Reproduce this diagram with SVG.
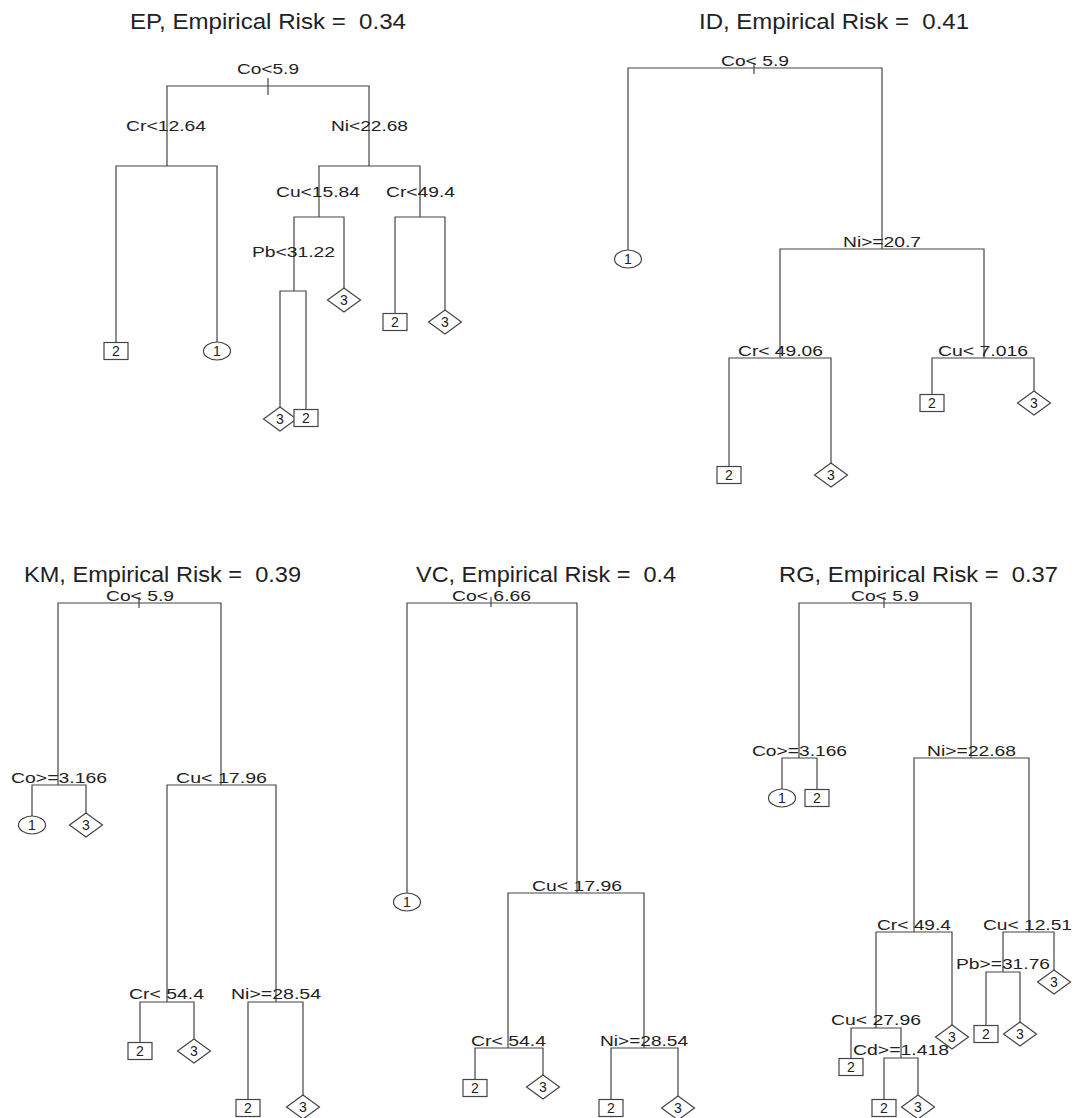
<svg xmlns="http://www.w3.org/2000/svg" width="1074" height="1118" viewBox="0 0 1074 1118">
<style>
.e{fill:none;stroke:#444;stroke-width:1.2}
.t{fill:none;stroke:#444;stroke-width:1.2}
.s{fill:#fff;stroke:#444;stroke-width:1.2}
.l{font-family:"Liberation Sans",Arial,sans-serif;font-size:15px;fill:#222;text-anchor:middle;white-space:pre}
.d{font-family:"Liberation Sans",Arial,sans-serif;font-size:14px;fill:#222;text-anchor:middle}
.h{font-family:"Liberation Sans",Arial,sans-serif;font-size:22.5px;fill:#222;white-space:pre}
</style>
<defs>
<rect id="sq" x="-12" y="-8.5" width="24" height="17" class="s"/>
<ellipse id="ci" cx="0" cy="0" rx="13.5" ry="9" class="s"/>
<polygon id="di" points="-16.5,0 0,-12 16.5,0 0,12" class="s"/>
</defs>
<rect width="1074" height="1118" fill="#fff"/>
<g id="titles">
<text class="h" xml:space="preserve" x="130" y="29" textLength="276" lengthAdjust="spacingAndGlyphs">EP, Empirical Risk =  0.34</text>
<text class="h" xml:space="preserve" x="699" y="29" textLength="270" lengthAdjust="spacingAndGlyphs">ID, Empirical Risk =  0.41</text>
<text class="h" xml:space="preserve" x="24" y="582" textLength="277" lengthAdjust="spacingAndGlyphs">KM, Empirical Risk =  0.39</text>
<text class="h" xml:space="preserve" x="416" y="582" textLength="260" lengthAdjust="spacingAndGlyphs">VC, Empirical Risk =  0.4</text>
<text class="h" xml:space="preserve" x="779" y="582" textLength="279" lengthAdjust="spacingAndGlyphs">RG, Empirical Risk =  0.37</text>
</g>
<g id="connectors">
<path class="e" d="M268 86H167V166"/>
<path class="e" d="M167 166H116V342"/>
<path class="e" d="M167 166H217V342"/>
<path class="e" d="M268 86H369V166"/>
<path class="e" d="M369 166H319V217"/>
<path class="e" d="M319 217H294V291"/>
<path class="e" d="M294 291H280V407"/>
<path class="e" d="M294 291H306V409"/>
<path class="e" d="M319 217H344V288"/>
<path class="e" d="M369 166H420V217"/>
<path class="e" d="M420 217H395V313"/>
<path class="e" d="M420 217H445V310"/>
<path class="e" d="M754 68H628V250"/>
<path class="e" d="M754 68H882V249"/>
<path class="e" d="M882 249H780V358"/>
<path class="e" d="M780 358H729V466"/>
<path class="e" d="M780 358H831V463"/>
<path class="e" d="M882 249H984V358"/>
<path class="e" d="M984 358H932V395"/>
<path class="e" d="M984 358H1034V391"/>
<path class="e" d="M139 603H58V785"/>
<path class="e" d="M58 785H32V816"/>
<path class="e" d="M58 785H86V813"/>
<path class="e" d="M139 603H221V785"/>
<path class="e" d="M221 785H167V1002"/>
<path class="e" d="M167 1002H140V1042"/>
<path class="e" d="M167 1002H194V1039"/>
<path class="e" d="M221 785H276V1002"/>
<path class="e" d="M276 1002H248V1099"/>
<path class="e" d="M276 1002H303V1095"/>
<path class="e" d="M491 603H407V893"/>
<path class="e" d="M491 603H577V893"/>
<path class="e" d="M577 893H508V1048"/>
<path class="e" d="M508 1048H475V1079"/>
<path class="e" d="M508 1048H543V1075"/>
<path class="e" d="M577 893H644V1048"/>
<path class="e" d="M644 1048H611V1099"/>
<path class="e" d="M644 1048H678V1096"/>
<path class="e" d="M884 603H799V758"/>
<path class="e" d="M799 758H782V789"/>
<path class="e" d="M799 758H817V789"/>
<path class="e" d="M884 603H971V758"/>
<path class="e" d="M971 758H914V932"/>
<path class="e" d="M914 932H876V1028"/>
<path class="e" d="M876 1028H851V1058"/>
<path class="e" d="M876 1028H901V1058"/>
<path class="e" d="M901 1058H884V1099"/>
<path class="e" d="M901 1058H918V1095"/>
<path class="e" d="M914 932H952V1025"/>
<path class="e" d="M971 758H1029V932"/>
<path class="e" d="M1029 932H1003V972"/>
<path class="e" d="M1003 972H986V1025"/>
<path class="e" d="M1003 972H1020V1022"/>
<path class="e" d="M1029 932H1054V970"/>
</g>
<g id="ep-root"><path class="t" d="M268 78V95"/><text class="l" x="268" y="74" textLength="62" lengthAdjust="spacingAndGlyphs">Co&lt;5.9</text></g>
<g id="ep-cr"><text class="l" x="166" y="131" textLength="80" lengthAdjust="spacingAndGlyphs">Cr&lt;12.64</text></g>
<g id="ep-ni"><text class="l" x="369.5" y="131" textLength="77" lengthAdjust="spacingAndGlyphs">Ni&lt;22.68</text></g>
<g id="ep-cu"><text class="l" x="318" y="197" textLength="84" lengthAdjust="spacingAndGlyphs">Cu&lt;15.84</text></g>
<g id="ep-cr2"><text class="l" x="420.5" y="197" textLength="69" lengthAdjust="spacingAndGlyphs">Cr&lt;49.4</text></g>
<g id="ep-pb"><text class="l" x="293.5" y="257" textLength="83" lengthAdjust="spacingAndGlyphs">Pb&lt;31.22</text></g>
<g id="ep-l1"><use href="#sq" x="116" y="351"/><text class="d" x="116" y="356">2</text></g>
<g id="ep-l2"><use href="#ci" x="217" y="351"/><text class="d" x="217" y="356">1</text></g>
<g id="ep-l3"><use href="#di" x="280" y="419"/><text class="d" x="280" y="424">3</text></g>
<g id="ep-l4"><use href="#sq" x="306" y="418"/><text class="d" x="306" y="423">2</text></g>
<g id="ep-l5"><use href="#di" x="344" y="300"/><text class="d" x="344" y="305">3</text></g>
<g id="ep-l6"><use href="#sq" x="395" y="322"/><text class="d" x="395" y="327">2</text></g>
<g id="ep-l7"><use href="#di" x="445" y="322"/><text class="d" x="445" y="327">3</text></g>
<g id="id-root"><path class="t" d="M754 63V74"/><text class="l" xml:space="preserve" x="755" y="66" textLength="68" lengthAdjust="spacingAndGlyphs">Co&lt; 5.9</text></g>
<g id="id-ni"><text class="l" x="882" y="247" textLength="78" lengthAdjust="spacingAndGlyphs">Ni&gt;=20.7</text></g>
<g id="id-cr"><text class="l" xml:space="preserve" x="780.5" y="356" textLength="85" lengthAdjust="spacingAndGlyphs">Cr&lt; 49.06</text></g>
<g id="id-cu"><text class="l" xml:space="preserve" x="983" y="356" textLength="90" lengthAdjust="spacingAndGlyphs">Cu&lt; 7.016</text></g>
<g id="id-l1"><use href="#ci" x="628" y="259"/><text class="d" x="628" y="264">1</text></g>
<g id="id-l2"><use href="#sq" x="729" y="475"/><text class="d" x="729" y="480">2</text></g>
<g id="id-l3"><use href="#di" x="831" y="475"/><text class="d" x="831" y="480">3</text></g>
<g id="id-l4"><use href="#sq" x="932" y="403"/><text class="d" x="932" y="408">2</text></g>
<g id="id-l5"><use href="#di" x="1034" y="403"/><text class="d" x="1034" y="408">3</text></g>
<g id="km-root"><path class="t" d="M139 597V608"/><text class="l" xml:space="preserve" x="140" y="601" textLength="68" lengthAdjust="spacingAndGlyphs">Co&lt; 5.9</text></g>
<g id="km-co"><text class="l" x="59" y="783" textLength="96" lengthAdjust="spacingAndGlyphs">Co&gt;=3.166</text></g>
<g id="km-cu"><text class="l" xml:space="preserve" x="221.5" y="783" textLength="91" lengthAdjust="spacingAndGlyphs">Cu&lt; 17.96</text></g>
<g id="km-cr"><text class="l" xml:space="preserve" x="166.5" y="999" textLength="75" lengthAdjust="spacingAndGlyphs">Cr&lt; 54.4</text></g>
<g id="km-ni"><text class="l" x="276" y="999" textLength="90" lengthAdjust="spacingAndGlyphs">Ni&gt;=28.54</text></g>
<g id="km-l1"><use href="#ci" x="32" y="825"/><text class="d" x="32" y="830">1</text></g>
<g id="km-l2"><use href="#di" x="86" y="825"/><text class="d" x="86" y="830">3</text></g>
<g id="km-l3"><use href="#sq" x="140" y="1051"/><text class="d" x="140" y="1056">2</text></g>
<g id="km-l4"><use href="#di" x="194" y="1051"/><text class="d" x="194" y="1056">3</text></g>
<g id="km-l5"><use href="#sq" x="248" y="1108"/><text class="d" x="248" y="1113">2</text></g>
<g id="km-l6"><use href="#di" x="303" y="1107"/><text class="d" x="303" y="1112">3</text></g>
<g id="vc-root"><path class="t" d="M491 597V607"/><text class="l" xml:space="preserve" x="491.5" y="601" textLength="79" lengthAdjust="spacingAndGlyphs">Co&lt; 6.66</text></g>
<g id="vc-cu"><text class="l" xml:space="preserve" x="577" y="891" textLength="90" lengthAdjust="spacingAndGlyphs">Cu&lt; 17.96</text></g>
<g id="vc-cr"><text class="l" xml:space="preserve" x="508.5" y="1046" textLength="75" lengthAdjust="spacingAndGlyphs">Cr&lt; 54.4</text></g>
<g id="vc-ni"><text class="l" x="644" y="1046" textLength="88" lengthAdjust="spacingAndGlyphs">Ni&gt;=28.54</text></g>
<g id="vc-l1"><use href="#ci" x="407" y="902"/><text class="d" x="407" y="907">1</text></g>
<g id="vc-l2"><use href="#sq" x="475" y="1088"/><text class="d" x="475" y="1093">2</text></g>
<g id="vc-l3"><use href="#di" x="543" y="1087"/><text class="d" x="543" y="1092">3</text></g>
<g id="vc-l4"><use href="#sq" x="611" y="1108"/><text class="d" x="611" y="1113">2</text></g>
<g id="vc-l5"><use href="#di" x="678" y="1108"/><text class="d" x="678" y="1113">3</text></g>
<g id="rg-root"><path class="t" d="M884 597V608"/><text class="l" xml:space="preserve" x="885" y="601" textLength="68" lengthAdjust="spacingAndGlyphs">Co&lt; 5.9</text></g>
<g id="rg-co"><text class="l" x="799.5" y="756" textLength="95" lengthAdjust="spacingAndGlyphs">Co&gt;=3.166</text></g>
<g id="rg-ni"><text class="l" x="971.5" y="756" textLength="89" lengthAdjust="spacingAndGlyphs">Ni&gt;=22.68</text></g>
<g id="rg-cr"><text class="l" xml:space="preserve" x="914" y="930" textLength="74" lengthAdjust="spacingAndGlyphs">Cr&lt; 49.4</text></g>
<g id="rg-cu"><text class="l" xml:space="preserve" x="1027.5" y="930" textLength="89" lengthAdjust="spacingAndGlyphs">Cu&lt; 12.51</text></g>
<g id="rg-pb"><text class="l" x="1003" y="969" textLength="94" lengthAdjust="spacingAndGlyphs">Pb&gt;=31.76</text></g>
<g id="rg-cu2"><text class="l" xml:space="preserve" x="876" y="1025" textLength="90" lengthAdjust="spacingAndGlyphs">Cu&lt; 27.96</text></g>
<g id="rg-cd"><text class="l" x="901" y="1055" textLength="96" lengthAdjust="spacingAndGlyphs">Cd&gt;=1.418</text></g>
<g id="rg-l1"><use href="#ci" x="782" y="798"/><text class="d" x="782" y="803">1</text></g>
<g id="rg-l2"><use href="#sq" x="817" y="798"/><text class="d" x="817" y="803">2</text></g>
<g id="rg-l3"><use href="#sq" x="851" y="1067"/><text class="d" x="851" y="1072">2</text></g>
<g id="rg-l4"><use href="#sq" x="884" y="1108"/><text class="d" x="884" y="1113">2</text></g>
<g id="rg-l5"><use href="#di" x="918" y="1107"/><text class="d" x="918" y="1112">3</text></g>
<g id="rg-l6"><use href="#di" x="952" y="1037"/><text class="d" x="952" y="1042">3</text></g>
<g id="rg-l7"><use href="#sq" x="986" y="1034"/><text class="d" x="986" y="1039">2</text></g>
<g id="rg-l8"><use href="#di" x="1020" y="1034"/><text class="d" x="1020" y="1039">3</text></g>
<g id="rg-l9"><use href="#di" x="1054" y="982"/><text class="d" x="1054" y="987">3</text></g>
</svg>
